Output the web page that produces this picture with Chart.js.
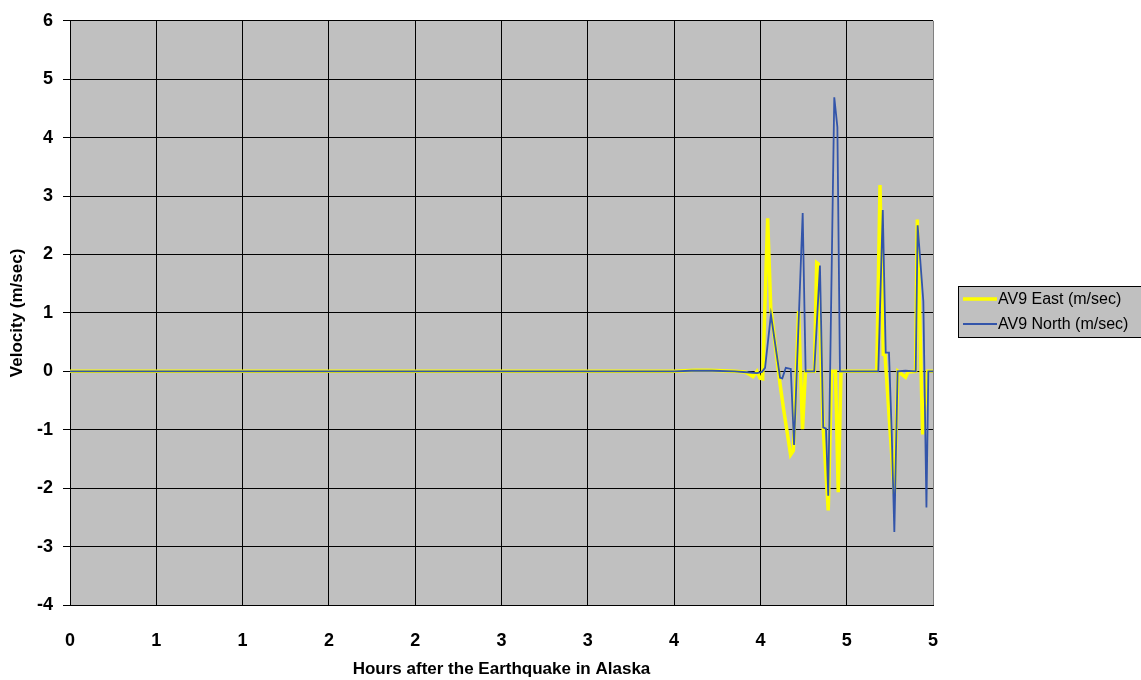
<!DOCTYPE html>
<html>
<head>
<meta charset="utf-8">
<script src="https://cdn.jsdelivr.net/npm/chart.js@4/dist/chart.umd.min.js"></script>
<style>
  html, body { margin: 0; padding: 0; background: #ffffff; }
  canvas { display: block; }
</style>
</head>
<body>
<canvas id="chart" width="1141" height="680" style="width:1141px;height:680px"></canvas>
<script>
// Series labels
const seriesNames = ['AV9 East (m/sec)', 'AV9 North (m/sec)'];

// AV9 East: time (hours) and velocity (m/sec)
const eastHours = [0, 3.5, 3.56, 3.62, 3.70, 3.78, 3.85, 3.911, 3.940, 3.957, 3.980, 3.998, 4.013,
  4.042, 4.060, 4.114, 4.133, 4.175, 4.191, 4.221, 4.244, 4.261, 4.313, 4.326, 4.335, 4.364,
  4.393, 4.412, 4.435, 4.451, 4.467, 4.674, 4.693, 4.712, 4.722, 4.776, 4.797, 4.841, 4.855,
  4.899, 4.909, 4.940, 4.969, 5.0];
const eastVelocity = [0, 0, 0.01, 0.02, 0.02, 0.01, 0.0, -0.01, -0.06, -0.09, 0.0, -0.12, -0.13,
  2.62, 1.08, -0.22, -0.62, -1.43, -1.36, 1.03, -0.99, 0, 0, 1.86, 1.84, -0.98,
  -2.38, 0, 0, -2.07, 0, 0, 3.19, 0.29, 0.28, -2.10, 0, -0.10, -0.01,
  0, 2.60, -1.08, 0, 0];

// AV9 North: time (hours) and velocity (m/sec)
const northHours = [0, 3.5, 3.60, 3.72, 3.85, 3.940, 3.980, 4.009, 4.027, 4.061, 4.114, 4.127,
  4.147, 4.176, 4.195, 4.245, 4.262, 4.312, 4.345, 4.364, 4.380, 4.393, 4.428, 4.446, 4.461,
  4.683, 4.709, 4.726, 4.745, 4.761, 4.776, 4.795, 4.84, 4.900, 4.911, 4.944, 4.962, 4.973, 5.0];
const northVelocity = [0, 0, 0.01, 0.01, 0, -0.02, -0.03, -0.01, 0.06, 0.97, -0.11, -0.12,
  0.06, 0.04, -1.26, 2.71, 0, 0, 1.81, -0.96, -0.98, -2.13, 4.69, 4.18, 0,
  0, 2.76, 0.32, 0.32, -1.07, -2.75, 0, 0.01, 0, 2.50, 1.20, -2.33, 0, 0];

// Hour labels printed under the x grid lines (rounded to whole hours)
const xTickLabels = ['0', '1', '1', '2', '2', '3', '3', '4', '4', '5', '5'];

const FONT = "'Liberation Sans', Arial, sans-serif";
const EAST_COLOR = '#FFFF00';
const NORTH_COLOR = '#3355AA';

const toPoints = (xs, ys) => xs.map((x, i) => ({ x: x, y: ys[i] }));

// Grey plot background behind the grid
const plotBackground = {
  id: 'plotBackground',
  beforeDraw(chart) {
    const { ctx, chartArea: a } = chart;
    ctx.save();
    ctx.fillStyle = '#C0C0C0';
    ctx.fillRect(a.left, a.top, a.right - a.left, a.bottom - a.top);
    ctx.restore();
  }
};

// Boxed legend to the right of the plot
const boxLegend = {
  id: 'boxLegend',
  afterDraw(chart) {
    const { ctx } = chart;
    const x = 958.5, y = 286.5, w = 200, h = 51;
    ctx.save();
    ctx.fillStyle = '#C0C0C0';
    ctx.fillRect(x, y, w, h);
    ctx.strokeStyle = '#000000';
    ctx.lineWidth = 1;
    ctx.strokeRect(x, y, w, h);
    ctx.font = '16px ' + FONT;
    ctx.textBaseline = 'middle';
    ctx.fillStyle = '#000000';
    chart.data.datasets.forEach((ds, i) => {
      const ry = 299 + i * 25;
      ctx.strokeStyle = ds.borderColor;
      ctx.lineWidth = ds.borderWidth;
      ctx.beginPath();
      ctx.moveTo(963, ry);
      ctx.lineTo(997, ry);
      ctx.stroke();
      ctx.fillText(ds.label, 998, ry + 1);
    });
    ctx.restore();
  }
};

new Chart(document.getElementById('chart'), {
  type: 'scatter',
  data: {
    datasets: [
      {
        label: seriesNames[0],
        data: toPoints(eastHours, eastVelocity),
        showLine: true,
        borderColor: EAST_COLOR,
        backgroundColor: EAST_COLOR,
        borderWidth: 3.5,
        pointRadius: 0,
        tension: 0,
        order: 1
      },
      {
        label: seriesNames[1],
        data: toPoints(northHours, northVelocity),
        showLine: true,
        borderColor: NORTH_COLOR,
        backgroundColor: NORTH_COLOR,
        borderWidth: 1.8,
        pointRadius: 0,
        tension: 0,
        order: 0
      }
    ]
  },
  options: {
    responsive: false,
    devicePixelRatio: 1,
    animation: false,
    layout: { padding: { left: 0, right: 208, top: 18, bottom: 0 } },
    plugins: {
      legend: { display: false },
      tooltip: { enabled: false }
    },
    scales: {
      x: {
        type: 'linear',
        min: 0,
        max: 5,
        afterFit(scale) { scale.height = 75; },
        ticks: {
          stepSize: 0.5,
          autoSkip: false,
          maxRotation: 0,
          padding: 25,
          color: '#000000',
          font: { family: FONT, size: 18, weight: 'bold' },
          callback: (value, index) => xTickLabels[index]
        },
        grid: {
          color: (ctx) => (ctx.tick && ctx.tick.value === 5 ? '#808080' : '#000000'),
          lineWidth: 1,
          drawTicks: false
        },
        border: { color: '#000000', width: 1 },
        title: {
          display: true,
          text: 'Hours after the Earthquake in Alaska',
          color: '#000000',
          font: { family: FONT, size: 17, weight: 'bold' },
          padding: { top: 0, bottom: 0 }
        }
      },
      y: {
        min: -4,
        max: 6,
        afterFit(scale) { scale.width = 70; },
        ticks: {
          stepSize: 1,
          padding: 10,
          color: '#000000',
          font: { family: FONT, size: 18, weight: 'bold' }
        },
        grid: {
          color: '#000000',
          tickColor: '#000000',
          lineWidth: 1,
          tickLength: 7
        },
        border: { color: '#000000', width: 1 },
        title: {
          display: true,
          text: 'Velocity (m/sec)',
          color: '#000000',
          font: { family: FONT, size: 17, weight: 'bold' },
          padding: { top: 7, bottom: 0 }
        }
      }
    }
  },
  plugins: [plotBackground, boxLegend]
});
</script>
</body>
</html>
